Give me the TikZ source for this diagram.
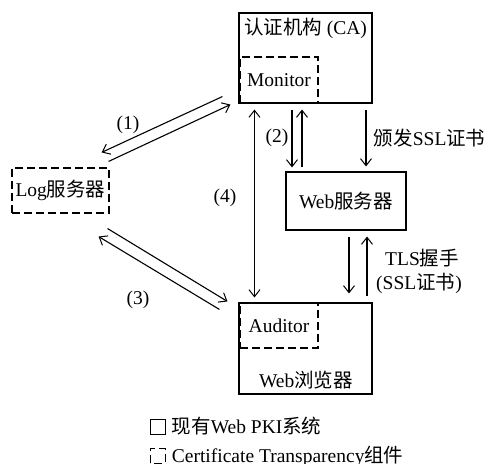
\documentclass[tikz,border=0pt]{standalone}
\usepackage{fontspec}
\setmainfont{Liberation Serif}
\newfontfamily\cjk{Noto Sans CJK SC}
\usetikzlibrary{arrows.meta}

\begin{document}
\begin{tikzpicture}[x=1pt,y=1pt,line width=1.1pt,
		font=\fontsize{19.5}{23}\selectfont,
		sysbox/.style={draw,inner sep=0pt},
		ctbox/.style={draw,dash pattern=on 8pt off 4pt,inner sep=0pt},
		barb/.tip={Straight Barb[length=7pt,width=11pt,line width=1pt]},
		arr/.style={-barb},
		dblarr/.style={barb-barb}]
		\useasboundingbox (0,0) rectangle (489,463);

		% boxes
		\node[sysbox,minimum width=133pt,minimum height=90pt] (ca) at (305.5,405) {};
		\node[below=2pt] (catitle) at (ca.north) {{\cjk 认证机构} (CA)};
		\node[ctbox,minimum width=78pt,minimum height=46pt] (monitor) at (279,383) {Monitor};
		\node[ctbox,minimum width=97pt,minimum height=45pt] (log) at (60.5,272.5) {Log{\cjk 服务器}};
		\node[sysbox,minimum width=120pt,minimum height=58pt] (web) at (346,262) {Web{\cjk 服务器}};
		\node[sysbox,minimum width=133pt,minimum height=91pt] (browser) at (305.5,114.5) {};
		\node (brtitle) at (306,83) {Web{\cjk 浏览器}};
		\node[ctbox,minimum width=78pt,minimum height=45pt] (auditor) at (279,137.5) {Auditor};

		% (1)
		\draw[arr] ([shift={(-16pt,7pt)}]ca.south west) -- ([shift={(-8pt,15pt)}]log.north east);
		\draw[arr] ([shift={(-1pt,6pt)}]log.north east) -- ([shift={(-8pt,-1pt)}]ca.south west);
		\node (l1) at (128,338) {(1)};

		% (2)
		\draw[arr] ([shift={(-13.5pt,-6pt)}]ca.south) -- ([shift={(-54pt,4pt)}]web.north);
		\draw[arr] ([shift={(-44pt,4pt)}]web.north) -- ([shift={(-3.5pt,-6pt)}]ca.south);
		\node (l2) at (277,325) {(2)};
		\draw[arr] ([shift={(60.5pt,-6pt)}]ca.south) -- ([shift={(20pt,5pt)}]web.north);
		\node[right] (issue) at (370,325) {{\cjk 颁发}SSL{\cjk 证书}};

		% (4)
		\draw[dblarr] ([shift={(16pt,-6pt)}]ca.south west) -- ([shift={(16pt,5pt)}]browser.north west);
		\node (l4) at (225,265) {(4)};

		% TLS
		\draw[arr] ([shift={(3pt,-6pt)}]web.south) -- ([shift={(43.5pt,9pt)}]browser.north);
		\draw[arr] ([shift={(61.5pt,6pt)}]browser.north) -- ([shift={(21pt,-6pt)}]web.south);
		\node (tls) at (422,205) {TLS{\cjk 握手}};
		\node (tlscert) at (419,180) {(SSL{\cjk 证书})};

		% (3)
		\draw[arr] ([shift={(-2pt,-15pt)}]log.south east) -- ([shift={(-11pt,1pt)}]browser.north west);
		\draw[arr] ([shift={(-19pt,-7pt)}]browser.north west) -- ([shift={(-11pt,-23pt)}]log.south east);
		\node (l3) at (138,163) {(3)};

		% legend
		\draw[line width=1pt] (150,29) rectangle (165,44);
		\node[right] (leg1) at (168,37) {{\cjk 现有}Web PKI{\cjk 系统}};
		\draw[line width=1pt,dash pattern=on 8pt off 4pt] (150,0) rectangle (165,15);
		\node[right] (leg2) at (168,7) {Certificate Transparency{\cjk 组件}};
	\end{tikzpicture}
\end{document}
